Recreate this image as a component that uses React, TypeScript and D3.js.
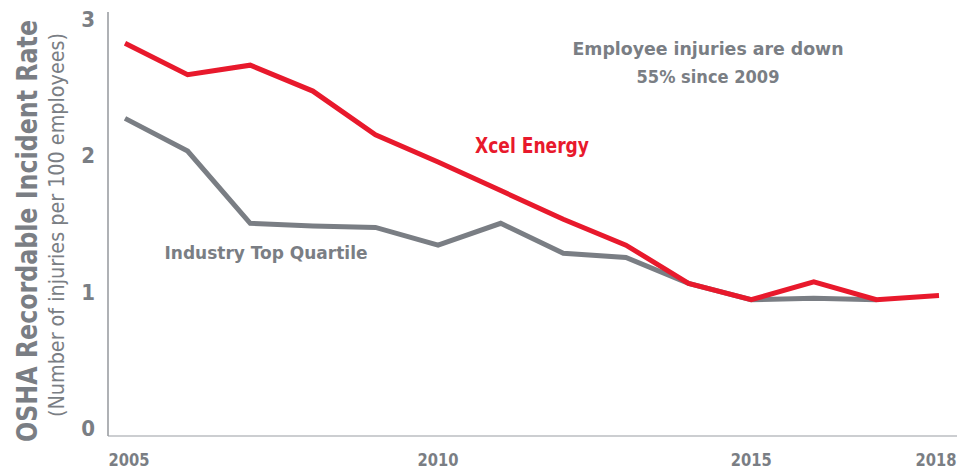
import React, { useRef, useEffect } from 'react';
import { select, scaleLinear, line } from 'd3';

const years = [2005, 2006, 2007, 2008, 2009, 2010, 2011, 2012, 2013, 2014, 2015, 2016, 2017, 2018];
const xcelRate = [2.88, 2.65, 2.72, 2.53, 2.21, 2.01, 1.8, 1.59, 1.4, 1.12, 1.0, 1.13, 1.0, 1.03];
const industryYears = [2005, 2006, 2007, 2008, 2009, 2010, 2011, 2012, 2013, 2014, 2015, 2016, 2017];
const industryRate = [2.33, 2.09, 1.56, 1.54, 1.53, 1.4, 1.56, 1.34, 1.31, 1.12, 1.0, 1.01, 1.0];
const yTicks = [0, 1, 2, 3];
const xTicks = [2005, 2010, 2015, 2018];

const RED = '#e8192c';
const GREY = '#7a7e84';
const FONT = '"Liberation Sans Narrow", "DejaVu Sans Condensed", "Roboto", sans-serif';

function App() {
  const width = 961;
  const height = 472;
  const svgRef = useRef<SVGSVGElement>(null);

  useEffect(() => {
    const svg = select(svgRef.current);
    svg.selectAll('*').remove();

    const xScale = scaleLinear().domain([2005, 2018]).range([125, 939]);
    const yScale = scaleLinear().domain([0, 3]).range([436, 27]);

    // axes
    svg
      .append('line')
      .attr('x1', 108)
      .attr('x2', 108)
      .attr('y1', yScale(3) - 15)
      .attr('y2', yScale(0))
      .attr('stroke', GREY)
      .attr('stroke-width', 1.2);
    svg
      .append('line')
      .attr('x1', 108)
      .attr('x2', 957)
      .attr('y1', yScale(0))
      .attr('y2', yScale(0))
      .attr('stroke', '#9a9ea3')
      .attr('stroke-width', 1.2);

    svg
      .selectAll('.ytick')
      .data(yTicks)
      .join('text')
      .attr('class', 'ytick')
      .attr('x', 95)
      .attr('y', (d) => yScale(d))
      .attr('text-anchor', 'end')
      .attr('font-family', FONT)
      .attr('font-weight', 'bold')
      .attr('font-size', 22)
      .attr('fill', GREY)
      .text((d) => d);

    // first and last year labels are nudged inward like the original
    const nudge = (d: number) => (d === 2005 ? 4 : d === 2018 ? -3 : 0);
    svg
      .selectAll('.xtick')
      .data(xTicks)
      .join('text')
      .attr('class', 'xtick')
      .attr('x', (d) => xScale(d) + nudge(d))
      .attr('y', 466)
      .attr('text-anchor', 'middle')
      .attr('font-family', FONT)
      .attr('font-weight', 'bold')
      .attr('font-size', 18)
      .attr('textLength', 41)
      .attr('lengthAdjust', 'spacingAndGlyphs')
      .attr('fill', GREY)
      .text((d) => d);

    // axis titles
    svg
      .append('text')
      .attr('transform', 'translate(37,231) rotate(-90)')
      .attr('text-anchor', 'middle')
      .attr('font-family', FONT)
      .attr('font-weight', 'bold')
      .attr('font-size', 28)
      .attr('textLength', 422)
      .attr('lengthAdjust', 'spacingAndGlyphs')
      .attr('fill', GREY)
      .text('OSHA Recordable Incident Rate');
    svg
      .append('text')
      .attr('transform', 'translate(64,225) rotate(-90)')
      .attr('text-anchor', 'middle')
      .attr('font-family', FONT)
      .attr('font-size', 21)
      .attr('textLength', 384)
      .attr('lengthAdjust', 'spacingAndGlyphs')
      .attr('fill', GREY)
      .text('(Number of injuries per 100 employees)');

    const industryLine = line<number>()
      .x((d, i) => xScale(industryYears[i]))
      .y((d) => yScale(d));
    const xcelLine = line<number>()
      .x((d, i) => xScale(years[i]))
      .y((d) => yScale(d));

    svg
      .append('path')
      .datum(industryRate)
      .attr('d', industryLine)
      .attr('fill', 'none')
      .attr('stroke', GREY)
      .attr('stroke-width', 5);
    svg
      .append('path')
      .datum(xcelRate)
      .attr('d', xcelLine)
      .attr('fill', 'none')
      .attr('stroke', RED)
      .attr('stroke-width', 5);

    // annotations
    const labels = [
      { text: 'Employee injuries are down', x: 708, y: 55, w: 271, size: 18, color: GREY },
      { text: '55% since 2009', x: 708, y: 83, w: 143, size: 18, color: GREY },
      { text: 'Xcel Energy', x: 532, y: 153, w: 114, size: 21, color: RED },
      { text: 'Industry Top Quartile', x: 266, y: 259, w: 203, size: 18, color: GREY },
    ];
    svg
      .selectAll('.note')
      .data(labels)
      .join('text')
      .attr('class', 'note')
      .attr('x', (d) => d.x)
      .attr('y', (d) => d.y)
      .attr('text-anchor', 'middle')
      .attr('font-family', FONT)
      .attr('font-weight', 'bold')
      .attr('font-size', (d) => d.size)
      .attr('textLength', (d) => d.w)
      .attr('lengthAdjust', 'spacingAndGlyphs')
      .attr('fill', (d) => d.color)
      .text((d) => d.text);
  }, []);

  return (
    <svg
      ref={svgRef}
      width={width}
      height={height}
      style={{ position: 'absolute', left: 0, top: 0, background: '#fff' }}
    />
  );
}

export default App;
